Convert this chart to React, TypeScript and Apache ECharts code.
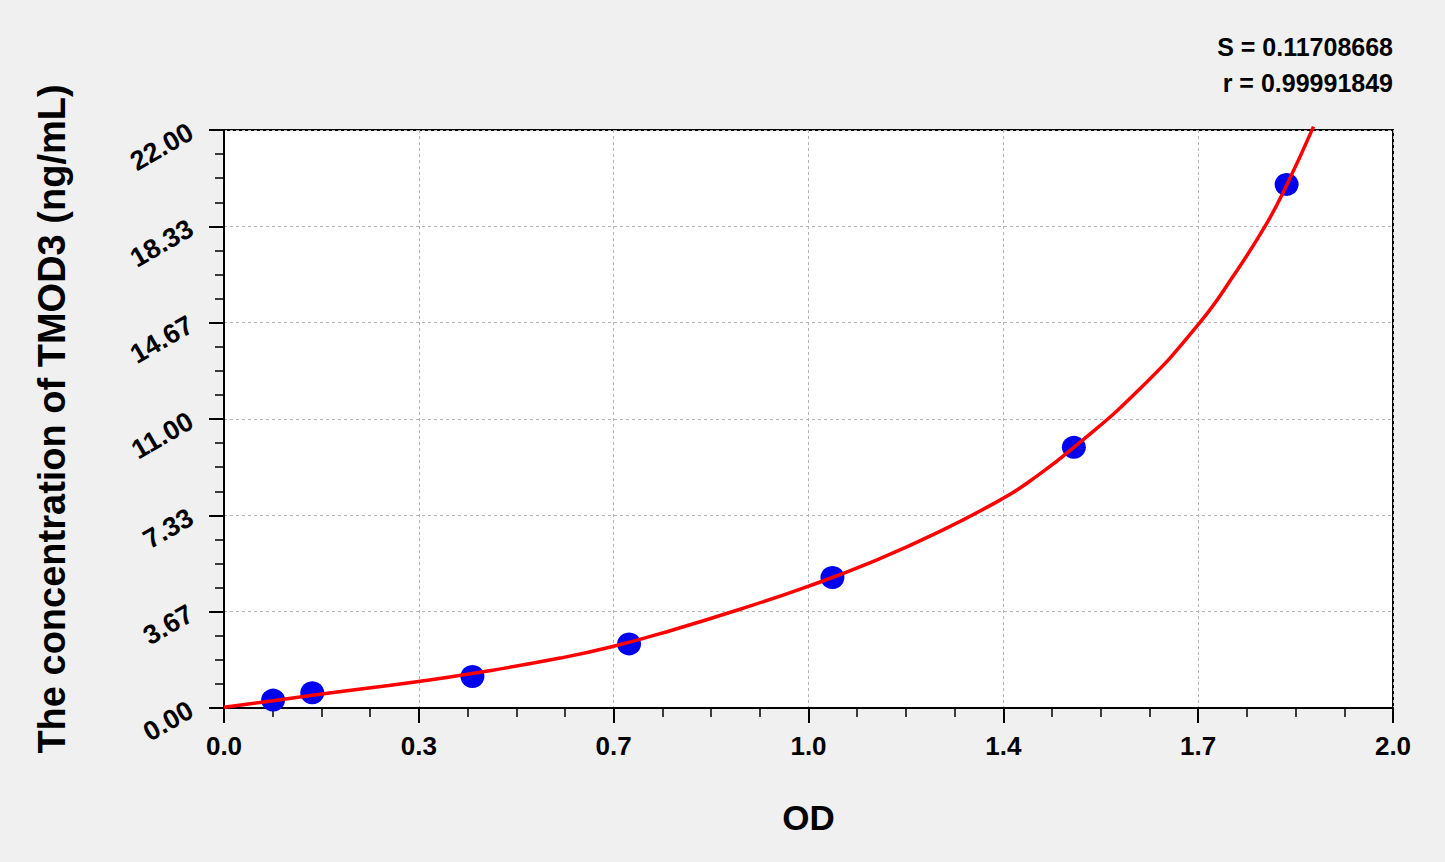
import { useEffect, useRef } from "react";
import * as echarts from "echarts";

// standard points (OD, concentration)
const stdOD = [0.084, 0.151, 0.425, 0.693, 1.041, 1.454, 1.818];
const stdConc = [0.3, 0.58, 1.2, 2.44, 4.97, 9.92, 19.93];

// fitted curve, sampled by eye along the red line
const fitOD = [0, 0.084, 0.164, 0.33, 0.427, 0.575, 0.665, 0.769, 0.883, 0.998, 1.111, 1.225, 1.333, 1.379, 1.453, 1.567, 1.667, 1.727, 1.784, 1.818, 1.864];
const fitConc = [0.03, 0.28, 0.52, 1.0, 1.32, 1.9, 2.34, 2.98, 3.76, 4.62, 5.58, 6.72, 7.98, 8.64, 9.9, 12.15, 14.6, 16.45, 18.45, 19.9, 22.13];

// tick labels as printed on the original
const xTickLabels = ["0.0", "0.3", "0.7", "1.0", "1.4", "1.7", "2.0"];
const yTickLabels = ["0.00", "3.67", "7.33", "11.00", "14.67", "18.33", "22.00"];

const statLines = ["S = 0.11708668", "r = 0.99991849"];

const FONT = "Arial, 'Liberation Sans', sans-serif";

export default function App() {
  const ref = useRef<HTMLDivElement>(null);

  useEffect(() => {
    const el = ref.current;
    if (!el) return;
    const chart = echarts.init(el, undefined, { renderer: "svg" });

    const axisCommon = {
      type: "value" as const,
      axisLine: { show: true, onZero: false, lineStyle: { color: "#000", width: 2 } },
      axisTick: { show: true, inside: false, length: 15, lineStyle: { color: "#000", width: 2 } },
      minorTick: { show: true, splitNumber: 4, length: 9, lineStyle: { color: "#000", width: 1.5 } },
      splitLine: { show: true, lineStyle: { color: "#b5b5b5", type: [3, 3] as number[], width: 1 } },
    };

    chart.setOption({
      animation: false,
      backgroundColor: "#f0f0f0",
      grid: {
        left: 224,
        right: 52,
        top: 130,
        bottom: 154,
        show: true,
        backgroundColor: "#fff",
        borderColor: "#000",
        borderWidth: 2,
      },
      xAxis: {
        ...axisCommon,
        min: 0,
        max: 2,
        interval: 2 / 6,
        name: "OD",
        nameLocation: "middle",
        nameGap: 92,
        nameTextStyle: { fontFamily: FONT, fontWeight: "bold", fontSize: 35, color: "#000" },
        axisLabel: {
          margin: 25,
          fontFamily: FONT,
          fontWeight: "bold",
          fontSize: 26,
          color: "#000",
          formatter: (v: number) => xTickLabels[Math.round(v / (2 / 6))] ?? "",
        },
      },
      yAxis: {
        ...axisCommon,
        min: 0,
        max: 22,
        interval: 22 / 6,
        name: "The concentration of TMOD3 (ng/mL)",
        nameLocation: "middle",
        nameGap: 153,
        nameTextStyle: { fontFamily: FONT, fontWeight: "bold", fontSize: 38, color: "#000" },
        axisLabel: {
          margin: 33,
          rotate: 30,
          fontFamily: FONT,
          fontWeight: "bold",
          fontSize: 27,
          color: "#000",
          formatter: (v: number) => yTickLabels[Math.round(v / (22 / 6))] ?? "",
        },
      },
      graphic: statLines.map((t, i) => ({
        type: "text",
        right: 52,
        top: 34 + i * 36,
        style: {
          text: t,
          font: `bold 25px ${FONT}`,
          fill: "#000",
        },
      })),
      series: [
        {
          type: "scatter",
          data: stdOD.map((x, i) => [x, stdConc[i]]),
          symbol: "circle",
          symbolSize: [24, 23],
          itemStyle: { color: "#0000f0", opacity: 1 },
          z: 2,
        },
        {
          type: "line",
          data: fitOD.map((x, i) => [x, fitConc[i]]),
          smooth: 0.5,
          showSymbol: false,
          clip: false,
          lineStyle: { color: "#ff0000", width: 3.5 },
          z: 3,
        },
      ],
    });

    return () => chart.dispose();
  }, []);

  return (
    <div
      ref={ref}
      style={{ position: "fixed", left: 0, top: 0, width: 1445, height: 862 }}
    />
  );
}
